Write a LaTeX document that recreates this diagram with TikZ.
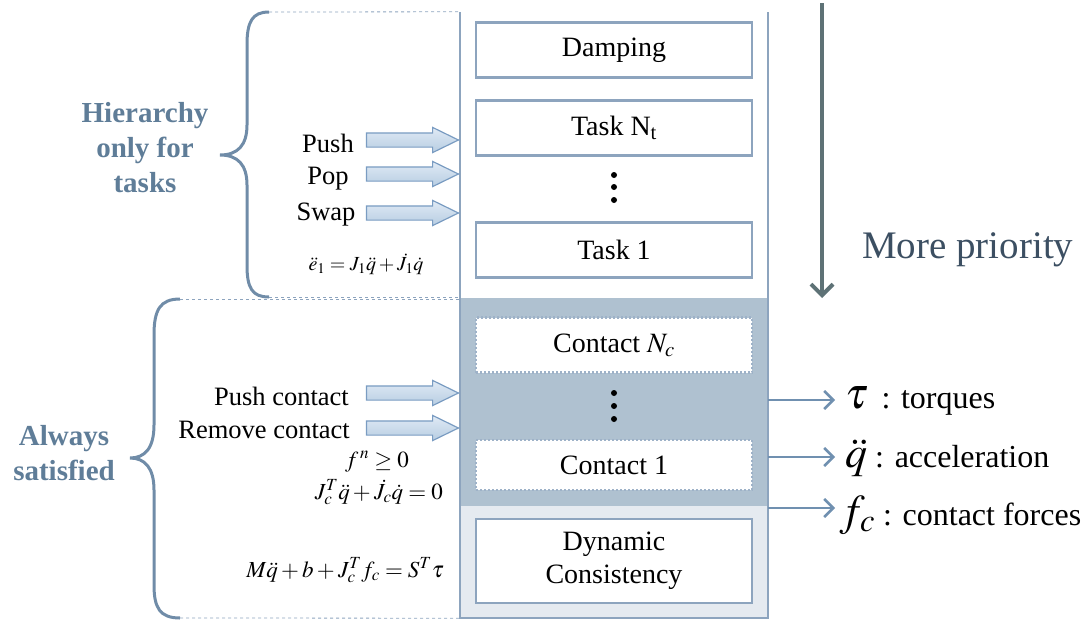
\documentclass[tikz,border=0pt]{standalone}
\usepackage{mathptmx}
\usepackage{fontspec}
\setmainfont{Liberation Serif}
\usepackage{tikz}
\usetikzlibrary{arrows.meta, shapes.arrows, positioning}
\definecolor{colline}{RGB}{141,164,190}
\definecolor{coldark}{RGB}{175,193,208}
\definecolor{collight}{RGB}{229,234,240}
\definecolor{bracecol}{RGB}{112,140,168}
\definecolor{bracetext}{RGB}{95,125,152}
\definecolor{priocol}{RGB}{94,114,118}
\definecolor{priotext}{RGB}{60,79,98}
\definecolor{outcol}{RGB}{112,144,176}
\definecolor{arrtop}{RGB}{224,234,245}
\definecolor{arrbot}{RGB}{183,205,226}
\definecolor{arrline}{RGB}{122,156,194}
\tikzset{
  taskbox/.style = {draw=colline, line width=2.5pt, fill=white, minimum width=276pt, inner sep=0pt, align=center, font=\fontsize{28}{33}\selectfont},
  contactbox/.style = {taskbox, draw=colline!85, dash pattern=on 2pt off 2pt},
  blockarr/.style = {single arrow, draw=arrline, line width=1.2pt, top color=arrtop, bottom color=arrbot, minimum height=92pt, minimum width=0pt, single arrow head extend=5.5pt, single arrow head indent=0pt, single arrow tip angle=52, inner xsep=0pt, inner ysep=6.5pt, anchor=tip},
  cmdlabel/.style = {anchor=base, inner sep=0pt, font=\fontsize{26.5}{30}\selectfont},
  eqlabel/.style = {anchor=base east, inner sep=0pt, font=\fontsize{23}{26}\selectfont},
  sidelabel/.style = {text=bracetext, align=center, inner sep=0pt, font=\bfseries\fontsize{29}{35}\selectfont},
  outlabel/.style = {anchor=base west, inner sep=0pt, font=\fontsize{32}{36}\selectfont},
  outarr/.style = {draw=outcol, line width=2.5pt, -{Straight Barb[length=9pt,width=18pt]}},
  prioarr/.style = {draw=priocol, line width=4pt, -{Straight Barb[length=11pt,width=22pt]}},
  brace/.style = {draw=bracecol, line width=3pt},
  guide/.style = {draw=colline, line width=0.8pt, dashed}
}
\newcommand{\outsym}[1]{{\fontsize{44}{44}\selectfont$#1$}}

\begin{document}
\begin{tikzpicture}[x=1pt, y=-1pt]
\useasboundingbox (0,0) rectangle (1090,624);
% column with the stack
\fill[coldark] (460,298) rectangle (768,506);
\fill[collight] (460,506) rectangle (768,618);
\node[minimum width=308pt, minimum height=606pt, inner sep=0pt] (col) at (614,315) {};
\draw[colline, line width=2.5pt] (col.north west) -- (col.south west) -- (col.south east) -- (col.north east);
\node[taskbox, minimum height=55pt] (damp) at (614,50) {Damping};
\node[taskbox, minimum height=55pt] (taskn) at (614,128) {Task N\textsubscript{t}};
\node[taskbox, minimum height=55pt] (task1) at (614,250) {Task 1};
\node[contactbox, minimum height=55pt] (contn) at (614,345) {Contact $N_c$};
\node[contactbox, minimum height=50pt] (cont1) at (614,465) {Contact 1};
\node[taskbox, minimum height=84pt] (dyn) at (614,561) {Dynamic\\Consistency};
\fill (614,175) circle (3pt) (614,187) circle (3pt) (614,200) circle (3pt);
\fill (614,393) circle (3pt) (614,406) circle (3pt) (614,419) circle (3pt);

% braces and guides
\draw[brace] (269,12) .. controls (252,12) and (247,22) .. (247,45) -- (247,125) .. controls (247,145) and (238,155) .. (220,155) .. controls (238,155) and (247,165) .. (247,185) -- (247,265) .. controls (247,288) and (252,297) .. (269,297);
\draw[brace] (180,299) .. controls (160,299) and (154,310) .. (154,335) -- (154,425) .. controls (154,448) and (145,458) .. (130,458) .. controls (145,458) and (154,468) .. (154,490) -- (154,585) .. controls (154,608) and (160,618) .. (180,618);
\draw[guide] (269,12) -- (col.north west);
\draw[guide] (269,297) -- (col.west |- 269,297);
\draw[guide] (180,299) -- (col.west |- 180,299);
\draw[guide] (180,618) -- (col.south west);
\node[sidelabel] (hier) at (145,148) {Hierarchy\\only for\\tasks};
\node[sidelabel] (always) at (64,453) {Always\\satisfied};

% commands
\node[cmdlabel] (push) at (328,152) {Push};
\node[cmdlabel] (pop) at (328,184) {Pop};
\node[cmdlabel] (swap) at (326,220) {Swap};
\node[cmdlabel, anchor=base east] (pushc) at (349,405) {Push contact};
\node[cmdlabel, anchor=base east] (remc) at (350,438) {Remove contact};
\node[blockarr] (apush) at (col.west |- 0,140) {};
\node[blockarr] (apop) at (col.west |- 0,174) {};
\node[blockarr] (aswap) at (col.west |- 0,213) {};
\node[blockarr] (apushc) at (col.west |- 0,393) {};
\node[blockarr] (aremc) at (col.west |- 0,428) {};

% equations
\node[eqlabel, anchor=base, font=\fontsize{20}{24}\selectfont] (eqtask) at (366,270) {$\ddot{e}_1 = J_1\ddot{q} + \dot{J}_1\dot{q}$};
\node[eqlabel, anchor=base] (eqfn) at (377,467) {$f^{\,n} \geq 0$};
\node[eqlabel] (eqcont) at (443,499) {$J_c^T\ddot{q} + \dot{J}_c\dot{q} = 0$};
\node[eqlabel] (eqdyn) at (444,577) {$M\ddot{q} + b + J_c^T f_c = S^T\tau$};

% outputs
\node[outlabel] (tau) at (845,408) {\outsym{\tau}\, : torques};
\node[outlabel] (qdd) at (845,467) {\outsym{\ddot{q}} : acceleration};
\node[outlabel] (fc) at (840,525) {\outsym{f_c} : contact forces};
\coordinate (tauin) at (835,400);
\coordinate (qddin) at (835,457);
\coordinate (fcin) at (835,508);
\draw[outarr] (col.east |- tauin) -- (tauin);
\draw[outarr] (col.east |- qddin) -- (qddin);
\draw[outarr] (col.east |- fcin) -- (fcin);

% priority
\coordinate (priotop) at (822,3);
\coordinate (priobot) at (822,298);
\draw[prioarr] (priotop) -- (priobot);
\node[anchor=base west, inner sep=0pt, text=priotext, font=\fontsize{39}{44}\selectfont] (prio) at (862,258) {More priority};
\end{tikzpicture}
\end{document}
